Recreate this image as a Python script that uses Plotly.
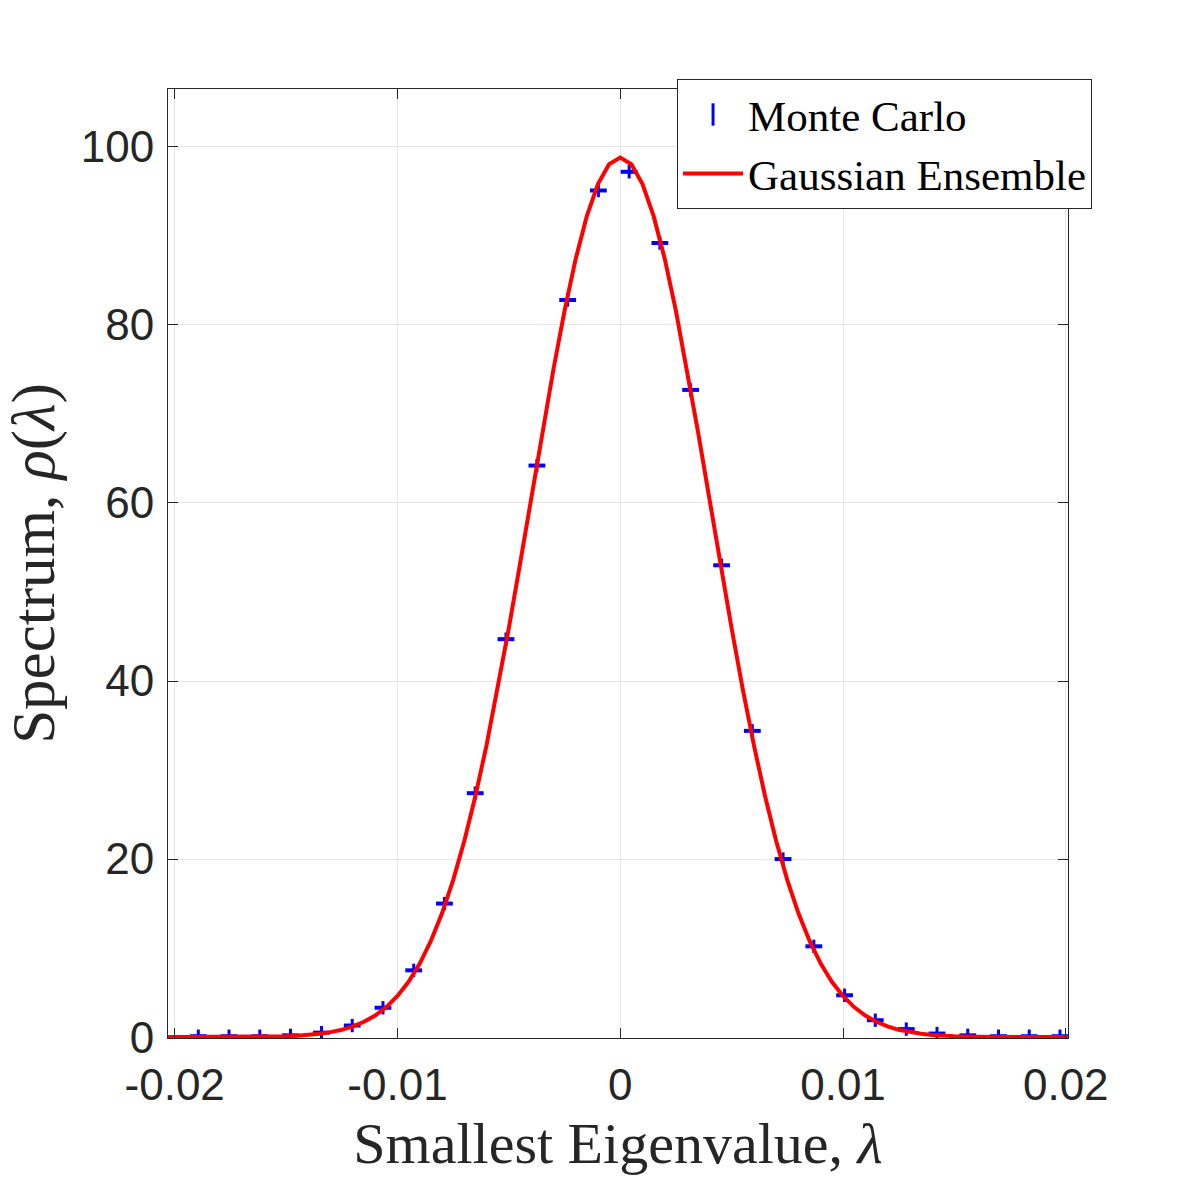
import plotly.graph_objects as go

# Monte Carlo histogram (bin centres and densities)
mc_x = [-0.01894, -0.01756, -0.01618, -0.01480, -0.01341, -0.01203, -0.01065,
        -0.00927, -0.00789, -0.00651, -0.00513, -0.00374, -0.00236, -0.00098,
        0.00040, 0.00178, 0.00316, 0.00455, 0.00593, 0.00731, 0.00869,
        0.01007, 0.01145, 0.01284, 0.01422, 0.01560, 0.01698, 0.01836, 0.01974]
mc_y = [0.1, 0.1, 0.1, 0.2, 0.5, 1.3, 3.3, 7.5, 15.0, 27.4, 44.7, 64.2, 82.8, 95.1,
        97.2, 89.2, 72.7, 53.0, 34.4, 20.0, 10.2, 4.7, 1.9, 0.9, 0.4, 0.2, 0.1, 0.1, 0.1]
mc_err = [0.75] * len(mc_x)

# Gaussian ensemble prediction
ge_x = [-0.0203, -0.019, -0.018, -0.017, -0.016, -0.015, -0.0145, -0.014, -0.0135,
        -0.013, -0.0125, -0.012, -0.0115, -0.011, -0.0105, -0.010, -0.0095, -0.009,
        -0.0085, -0.008, -0.0075, -0.007, -0.0065, -0.006, -0.0055, -0.005, -0.0045,
        -0.004, -0.0035, -0.003, -0.0025, -0.002, -0.0015, -0.001, -0.0005, 0.0,
        0.0005, 0.001, 0.0015, 0.002, 0.0025, 0.003, 0.0035, 0.004, 0.0045, 0.005,
        0.0055, 0.006, 0.0065, 0.007, 0.0075, 0.008, 0.0085, 0.009, 0.0095, 0.010,
        0.0105, 0.011, 0.0115, 0.012, 0.0125, 0.013, 0.0135, 0.014, 0.0145, 0.015,
        0.016, 0.017, 0.018, 0.019, 0.0201]
ge_y = [0.0, 0.0, 0.0, 0.01, 0.04, 0.10, 0.16, 0.24, 0.37,
        0.56, 0.82, 1.20, 1.72, 2.43, 3.37, 4.62, 6.22, 8.26,
        10.80, 13.90, 17.64, 22.02, 27.08, 32.79, 39.10, 45.93, 53.13,
        60.51, 67.88, 74.99, 81.58, 87.41, 92.22, 95.82, 98.05, 98.8,
        98.05, 95.82, 92.22, 87.41, 81.58, 74.99, 67.88, 60.51, 53.13, 45.93,
        39.10, 32.79, 27.08, 22.02, 17.64, 13.90, 10.80, 8.26, 6.22, 4.62,
        3.37, 2.43, 1.72, 1.20, 0.82, 0.56, 0.37, 0.24, 0.16, 0.10,
        0.04, 0.01, 0.0, 0.0, 0.0]

x_ticks = [-0.02, -0.01, 0, 0.01, 0.02]
x_tick_labels = ["-0.02", "-0.01", "0", "0.01", "0.02"]
y_ticks = [0, 20, 40, 60, 80, 100]
y_tick_labels = ["0", "20", "40", "60", "80", "100"]

fig = go.Figure()
# legend entry for the Monte Carlo error bars
fig.add_trace(go.Scatter(
    x=[None], y=[None], mode="markers", name="Monte Carlo",
    marker=dict(symbol="line-ns", size=24, color="#0000ff",
                line=dict(color="#0000ff", width=3)),
))
fig.add_trace(go.Scatter(
    x=mc_x, y=mc_y, mode="markers", name="Monte Carlo", showlegend=False,
    marker=dict(symbol="line-ew", size=12, color="#0000ff",
                line=dict(color="#0000ff", width=4)),
    error_y=dict(type="data", array=mc_err, visible=True, color="#0000ff",
                 thickness=3, width=0),
))
fig.add_trace(go.Scatter(
    x=ge_x, y=ge_y, mode="lines", name="Gaussian Ensemble",
    line=dict(color="#ff0000", width=4),
))

tick_font = dict(family="Liberation Sans, Arial, sans-serif", size=44, color="#262626")
serif = "Liberation Serif, Times New Roman, serif"

fig.update_layout(
    width=1182, height=1182,
    margin=dict(l=168, r=114, t=89, b=144),
    paper_bgcolor="white", plot_bgcolor="white",
    showlegend=True,
    legend=dict(
        x=0.5656, y=1.0105, xanchor="left", yanchor="top",
        bgcolor="white", bordercolor="#262626", borderwidth=1,
        font=dict(family=serif, size=43, color="black"),
        itemwidth=60, tracegroupgap=0,
    ),
    xaxis=dict(
        range=[-0.0203, 0.0201], tickvals=x_ticks, ticktext=x_tick_labels,
        ticks="inside", ticklen=10, tickcolor="#262626", tickwidth=1,
        showline=True, linecolor="#262626", linewidth=1, mirror="ticks",
        showgrid=True, gridcolor="#e6e6e6", gridwidth=1, zeroline=False,
        tickfont=tick_font, ticklabelstandoff=8,
        title=dict(text="Smallest Eigenvalue, <i>λ</i>",
                   font=dict(family=serif, size=58, color="#262626"), standoff=14),
    ),
    yaxis=dict(
        range=[-0.1, 106.5], tickvals=y_ticks, ticktext=y_tick_labels,
        ticks="inside", ticklen=10, tickcolor="#262626", tickwidth=1,
        showline=True, linecolor="#262626", linewidth=1, mirror="ticks",
        showgrid=True, gridcolor="#e6e6e6", gridwidth=1, zeroline=False,
        tickfont=tick_font, ticklabelstandoff=4,
        title=dict(text="Spectrum, <i>ρ</i>(<i>λ</i>)",
                   font=dict(family=serif, size=61, color="#262626"), standoff=18),
    ),
)

fig.write_html("out.html")
